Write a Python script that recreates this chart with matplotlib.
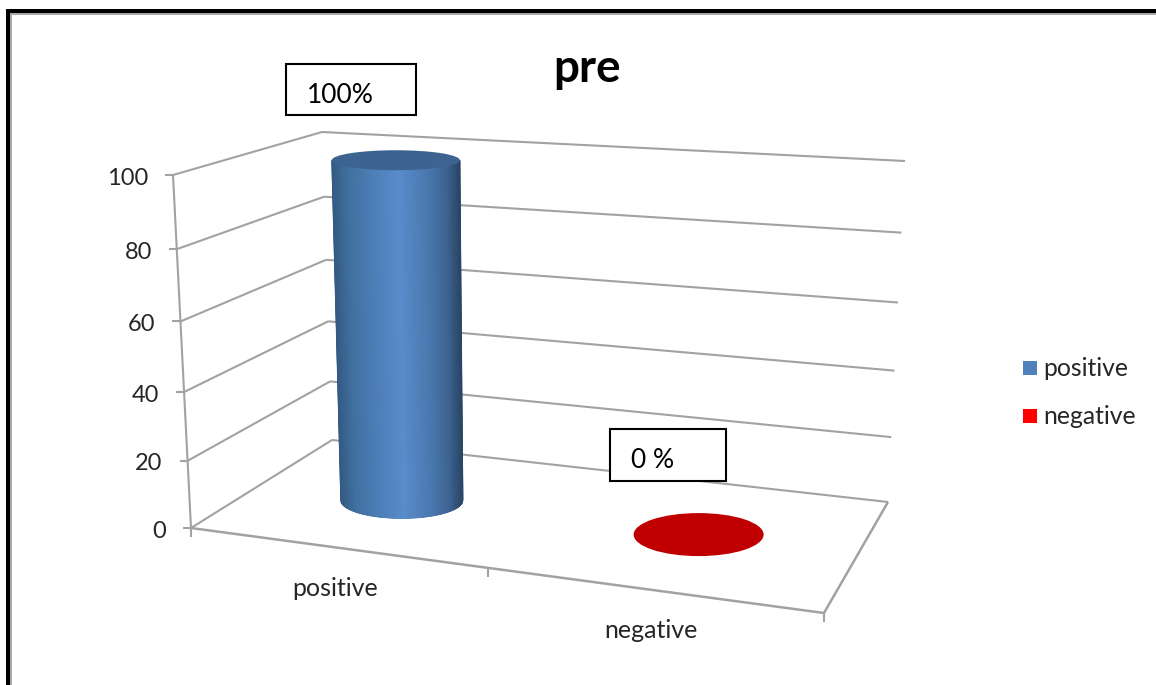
import numpy as np
import matplotlib
matplotlib.use("Agg")
import matplotlib.pyplot as plt
from matplotlib.colors import LinearSegmentedColormap
from matplotlib.patches import Ellipse, Rectangle

plt.rcParams["font.family"] = ["Lato", "DejaVu Sans"]

# Chart content
title = "pre"
categories = ["positive", "negative"]
values = [100, 0]
value_ticks = [0, 20, 40, 60, 80, 100]
annotations = ["100%", "0 %"]
legend_colors = ["#4F81BD", "#FF0000"]
top_colors = ["#3D6490", "#C00000"]

# Projected corners of the 3D box, in canvas pixels
W, H = 1156, 685
FRONT_LEFT = {0: (191, 528), 100: (173, 175)}
BACK_LEFT = {0: (332, 440), 100: (322, 132)}
BACK_RIGHT = {0: (888, 502), 100: (905, 161)}
FRONT_RIGHT = (824, 613)
GRID = "#A2A2A2"
TEXT = "#262626"

# Base cylinder shape per category: floor position and ellipse radii
FLOOR_U = [0.234, 0.731]
FLOOR_D = [0.51, 0.53]
BASE_RX = [61, 65]
BASE_RY = [18, 21.5]
TOP_RX, TOP_RY, TOP_SHIFT = 64, 10, -6

# Category label centres relative to the front floor edge
LABEL_OFFSET = [(0, 41), (0, 41)]


def rise(v):
    """Share of the wall height reached by value v, with slight perspective."""
    t = v / 100
    return t * 0.94 / (1 - 0.06 * t)


def along_front(u):
    """Foreshortened share of the front floor edge at category position u."""
    return u * 0.883 / (1 - 0.117 * u)


def on_edge(edge, v):
    p0, p1 = np.array(edge[0], float), np.array(edge[100], float)
    return p0 + (p1 - p0) * rise(v)


def floor_point(u, d):
    fl, fr = np.array(FRONT_LEFT[0], float), np.array(FRONT_RIGHT, float)
    bl, br = np.array(BACK_LEFT[0], float), np.array(BACK_RIGHT[0], float)
    front = fl + (fr - fl) * u
    back = bl + (br - bl) * u
    return front + (back - front) * d


def seg(ax, p, q, lw=1.5, color=GRID, z=2):
    ax.plot([p[0], q[0]], [p[1], q[1]], color=color, lw=lw, zorder=z,
            solid_capstyle="butt")


fig = plt.figure(figsize=(W / 100, H / 100), dpi=100, facecolor="white")
ax = fig.add_axes([0, 0, 1, 1])
ax.set_xlim(0, W)
ax.set_ylim(H, 0)
ax.axis("off")

# Outer frame along the top and left only
ax.add_patch(Rectangle((6, 9), W, 4, fc="black", ec="none", zorder=6))
ax.add_patch(Rectangle((6, 9), 4, H, fc="black", ec="none", zorder=6))
ax.add_patch(Rectangle((10, 13), W, 2, fc="#A8A8A8", ec="none", zorder=6))
ax.add_patch(Rectangle((10, 13), 1.5, H, fc="#A8A8A8", ec="none", zorder=6))

# Wall gridlines and value axis
for v in value_ticks:
    a = on_edge(FRONT_LEFT, v)
    b = on_edge(BACK_LEFT, v)
    c = on_edge(BACK_RIGHT, v)
    seg(ax, a, b)
    seg(ax, b, c)
    seg(ax, (a[0] - 8, a[1]), a)
    ax.text(a[0] - 25, a[1] + 3, str(v), ha="right", va="center",
            fontsize=17, color=TEXT)
seg(ax, FRONT_LEFT[0], FRONT_LEFT[100])

# Floor outline and category ticks
seg(ax, FRONT_LEFT[0], FRONT_RIGHT, lw=1.8)
seg(ax, FRONT_RIGHT, BACK_RIGHT[0], lw=1.8)
fl = np.array(FRONT_LEFT[0], float)
fr = np.array(FRONT_RIGHT, float)
for u in np.linspace(0, 1, len(categories) + 1):
    p = fl + (fr - fl) * along_front(u)
    seg(ax, p, (p[0], p[1] + 9))

# Category labels sit below the front floor edge
for i, name in enumerate(categories):
    p = fl + (fr - fl) * along_front((i + 0.5) / len(categories))
    dx, dy = LABEL_OFFSET[i]
    ax.text(p[0] + dx, p[1] + dy, name, ha="center", va="center",
            fontsize=18, color=TEXT)

# Cylinders
for i, v in enumerate(values):
    cx, cy = floor_point(FLOOR_U[i], FLOOR_D[i])
    rx, ry = BASE_RX[i], BASE_RY[i]
    if v > 0:
        h = (BACK_LEFT[0][1] - BACK_LEFT[100][1]) * 1.104 * rise(v)
        tx, ty = cx + TOP_SHIFT * v / 100, cy - h
        u = np.linspace(-1, 1, 241)
        arc = np.sqrt(1 - u ** 2)
        X = np.vstack([tx + TOP_RX * u, cx + rx * u])
        Y = np.vstack([ty + TOP_RY * arc, cy + ry * arc])
        C = np.vstack([u, u])
        cmap = LinearSegmentedColormap.from_list(
            "cyl", [(0.0, "#345A84"), (0.12, "#41709F"), (0.30, "#4C7DB6"),
                    (0.52, "#5A8CCC"), (0.75, "#4A78AE"), (0.90, "#3C6391"),
                    (1.0, "#2A4666")])
        ax.pcolormesh(X, Y, C, shading="gouraud", cmap=cmap, zorder=3)
        ax.add_patch(Ellipse((tx, ty), 2 * TOP_RX, 2 * TOP_RY,
                             fc=top_colors[i], ec="none", zorder=4))
    else:
        ax.add_patch(Ellipse((cx, cy), 2 * rx, 2 * ry,
                             fc=top_colors[i], ec="none", zorder=4))

# Annotation boxes placed by hand on the chart
boxes = [(286, 64, 130, 51, 307, 95), (610, 429, 116, 52, 631, 460)]
for text, (x, y, w, h, tx, ty) in zip(annotations, boxes):
    ax.add_patch(Rectangle((x, y), w, h, fc="white", ec="black", lw=1.5, zorder=5))
    ax.text(tx, ty, text, ha="left", va="center", fontsize=19, color="black", zorder=6)

ax.text(587, 69, title, ha="center", va="center", fontsize=33, fontweight="bold",
        color="black", zorder=6)

# Legend
for name, color, y in zip(categories, legend_colors, [368, 416]):
    ax.add_patch(Rectangle((1023, y - 7), 14, 14, fc=color, ec="none", zorder=5))
    ax.text(1043.5, y, name, ha="left", va="center", fontsize=17.8, color=TEXT, zorder=6)

fig.savefig("out.png", dpi=100, facecolor="white")
